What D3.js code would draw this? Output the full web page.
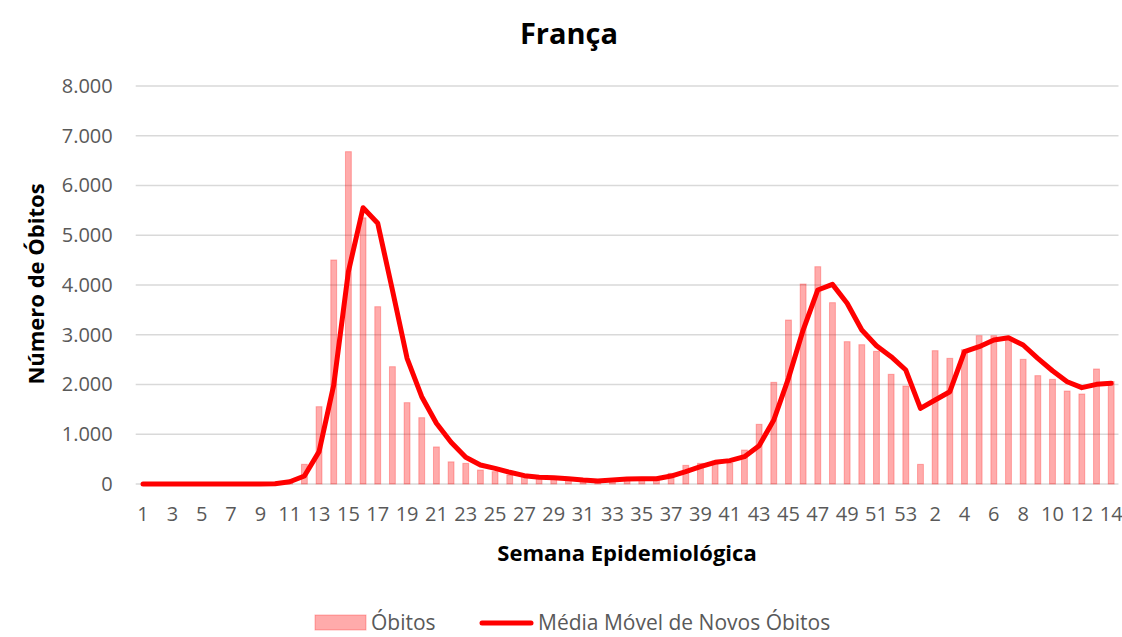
<!DOCTYPE html>
<html>
<head>
<meta charset="utf-8">
<script src="https://cdn.jsdelivr.net/npm/d3@7"></script>
<style>
  body { margin: 0; background: #fff; }
  svg { display: block; font-family: "Open Sans", "Noto Sans", sans-serif; }
</style>
</head>
<body>
<svg id="chart" width="1122" height="637"></svg>
<script>
// Epidemiological weeks: 2020 (1–53) followed by 2021 (1–14)
const weeks = [
  "1","2","3","4","5","6","7","8","9","10","11","12","13","14","15","16","17","18","19","20",
  "21","22","23","24","25","26","27","28","29","30","31","32","33","34","35","36","37","38","39","40",
  "41","42","43","44","45","46","47","48","49","50","51","52","53",
  "1","2","3","4","5","6","7","8","9","10","11","12","13","14"
];

// Weekly deaths
const obitos = [
  0,0,0,0,0,0,0,0,0,10,60,396,1554,4503,6680,5350,3564,2358,1635,1333,
  745,445,415,281,248,181,160,114,110,80,60,55,65,80,90,110,214,375,415,460,
  420,683,1200,2044,3296,4020,4368,3645,2861,2800,2667,2205,1970,
  395,2680,2526,2700,2981,2981,2900,2506,2178,2104,1869,1809,2312,2060
];

// Moving average of new deaths
const mediaMovel = [
  0,0,0,0,0,0,0,0,0,5,45,160,650,1990,4268,5554,5240,3900,2526,1755,
  1220,840,536,382,315,235,168,134,127,107,80,60,80,100,107,107,160,248,348,436,
  470,550,770,1286,2124,3095,3900,4013,3632,3095,2780,2559,2291,
  1521,1688,1855,2660,2760,2894,2940,2794,2526,2277,2056,1936,2003,2024
];

const yTicks = [0,1000,2000,3000,4000,5000,6000,7000,8000];

const title = "França";
const xTitle = "Semana Epidemiológica";
const yTitle = "Número de Óbitos";
const legendBars = "Óbitos";
const legendLine = "Média Móvel de Novos Óbitos";

const svg = d3.select("#chart");
const plot = { left: 135.7, right: 1118.5, top: 86, bottom: 484 };

const idx = d3.range(weeks.length);
const x = d3.scaleBand().domain(idx).range([plot.left, plot.right]).paddingInner(0.6).paddingOuter(0.3);
const y = d3.scaleLinear().domain([0, 8000]).range([plot.bottom, plot.top]);

const fmt = v => d3.format(",")(v).replace(/,/g, ".");

// Horizontal gridlines
svg.append("g")
  .selectAll("line")
  .data(yTicks)
  .join("line")
  .attr("x1", plot.left)
  .attr("x2", plot.right)
  .attr("y1", d => y(d))
  .attr("y2", d => y(d))
  .attr("stroke", "#d9d9d9")
  .attr("stroke-width", 1.3);

// Y axis labels
const yAxis = svg.append("g")
  .attr("transform", `translate(${plot.left},0)`)
  .call(d3.axisLeft(y).tickValues(yTicks).tickFormat(fmt).tickSize(0).tickPadding(23));
yAxis.select(".domain").remove();
yAxis.selectAll("text")
  .attr("fill", "#595959")
  .style("font-size", "20px")
  .style("font-family", "'Open Sans', sans-serif");

// X axis labels (every other week)
const xAxis = svg.append("g")
  .attr("transform", `translate(0,${plot.bottom})`)
  .call(d3.axisBottom(x)
    .tickValues(idx.filter(i => i % 2 === 0))
    .tickFormat(i => weeks[i])
    .tickSize(0)
    .tickPadding(23));
xAxis.select(".domain").remove();
xAxis.selectAll("text")
  .attr("fill", "#595959")
  .style("font-size", "20px")
  .style("font-family", "'Open Sans', sans-serif");

// Weekly death bars
svg.append("g")
  .selectAll("rect")
  .data(idx)
  .join("rect")
  .attr("x", i => x(i))
  .attr("width", x.bandwidth())
  .attr("y", i => y(obitos[i]))
  .attr("height", i => y(0) - y(obitos[i]))
  .attr("fill", "rgba(255,0,0,0.33)")
  .attr("stroke", "rgba(255,0,0,0.28)")
  .attr("stroke-width", 1);

// Moving average line
const line = d3.line()
  .x(i => x(i) + x.bandwidth() / 2)
  .y(i => y(mediaMovel[i]));

svg.append("path")
  .datum(idx)
  .attr("d", line)
  .attr("fill", "none")
  .attr("stroke", "#ff0000")
  .attr("stroke-width", 5)
  .attr("stroke-linejoin", "round")
  .attr("stroke-linecap", "round");

// Title
svg.append("text")
  .attr("x", 569)
  .attr("y", 44)
  .attr("text-anchor", "middle")
  .attr("font-weight", "bold")
  .attr("font-size", 29)
  .attr("fill", "#000")
  .text(title);

// Axis titles
svg.append("text")
  .attr("x", 627)
  .attr("y", 561)
  .attr("text-anchor", "middle")
  .attr("font-weight", "bold")
  .attr("font-size", 22)
  .attr("fill", "#000")
  .text(xTitle);

svg.append("text")
  .attr("transform", "translate(44,284) rotate(-90)")
  .attr("text-anchor", "middle")
  .attr("font-weight", "bold")
  .attr("font-size", 22)
  .attr("fill", "#000")
  .text(yTitle);

// Legend
const legend = svg.append("g");
legend.append("rect")
  .attr("x", 315).attr("y", 615).attr("width", 51).attr("height", 15)
  .attr("fill", "rgba(255,0,0,0.33)")
  .attr("stroke", "rgba(255,0,0,0.28)");
legend.append("text")
  .attr("x", 371).attr("y", 630)
  .attr("font-size", 21).attr("fill", "#595959")
  .text(legendBars);
legend.append("line")
  .attr("x1", 482).attr("x2", 531).attr("y1", 623).attr("y2", 623)
  .attr("stroke", "#ff0000").attr("stroke-width", 5).attr("stroke-linecap", "round");
legend.append("text")
  .attr("x", 538).attr("y", 630)
  .attr("font-size", 21).attr("fill", "#595959")
  .text(legendLine);
</script>
</body>
</html>
